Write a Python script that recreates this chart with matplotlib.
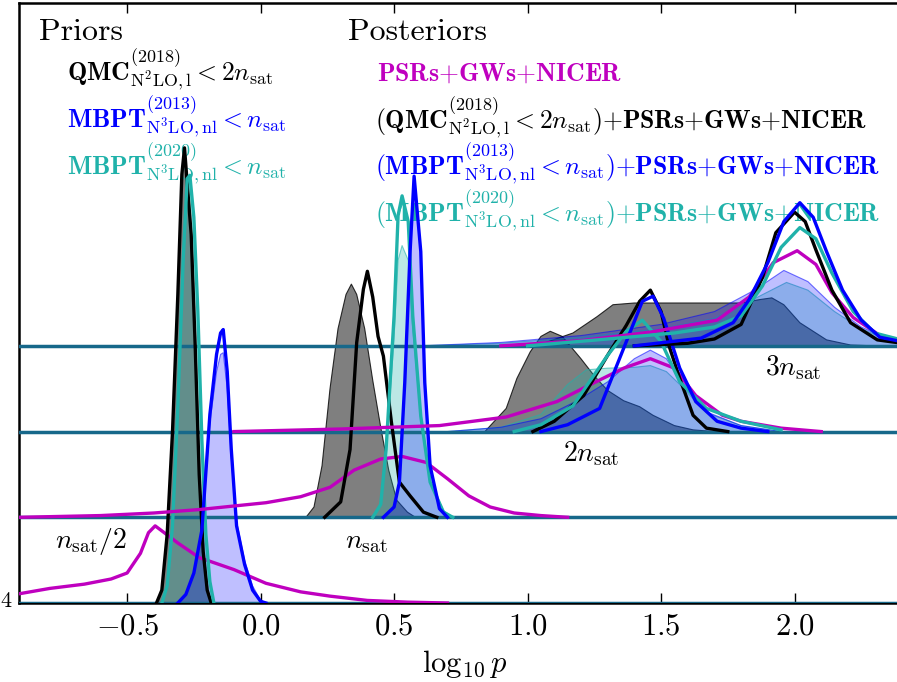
import numpy as np
import matplotlib
matplotlib.use('Agg')
import matplotlib.pyplot as plt

plt.rcParams['font.family'] = 'serif'
plt.rcParams['font.serif'] = ['cmr10']
plt.rcParams['mathtext.fontset'] = 'cm'
plt.rcParams['axes.formatter.use_mathtext'] = True

# ridge levels (baseline offsets) and their labels
level_names = [r'$n_{\rm sat}/2$', r'$n_{\rm sat}$', r'$2n_{\rm sat}$', r'$3n_{\rm sat}$']
level_base = [0, 1, 2, 3]

# ---- n_sat/2 ----
x0_mag = [-0.90, -0.79, -0.66, -0.56, -0.50, -0.45, -0.42, -0.395, -0.365, -0.31, -0.23, -0.10, 0.02, 0.15, 0.26, 0.40, 0.55, 0.70]
h0_mag = [0.11, 0.17, 0.22, 0.28, 0.35, 0.58, 0.82, 0.90, 0.83, 0.70, 0.53, 0.39, 0.23, 0.13, 0.08, 0.03, 0.01, 0.0]
x0_qmc = [-0.39, -0.37, -0.35, -0.33, -0.31, -0.295, -0.285, -0.275, -0.26, -0.245, -0.23, -0.215, -0.20, -0.185]
h0_qmc = [0.0, 0.15, 0.8, 2.0, 3.6, 5.0, 5.31, 4.9, 4.3, 3.0, 1.5, 0.6, 0.15, 0.0]
x0_m20 = [-0.37, -0.35, -0.33, -0.31, -0.29, -0.275, -0.265, -0.25, -0.235, -0.22, -0.205, -0.19, -0.175]
h0_m20 = [0.0, 0.2, 0.9, 2.3, 4.0, 4.95, 4.99, 4.5, 3.4, 1.9, 0.8, 0.25, 0.0]
x0_m13 = [-0.31, -0.28, -0.25, -0.22, -0.19, -0.165, -0.15, -0.14, -0.125, -0.11, -0.09, -0.06, -0.03, 0.0, 0.02]
h0_m13 = [0.0, 0.1, 0.35, 0.85, 2.2, 2.9, 3.15, 3.19, 2.7, 1.8, 0.9, 0.45, 0.15, 0.02, 0.0]
h0_m13_prior = [0.0, 0.1, 0.35, 0.85, 2.1, 2.7, 2.9, 2.92, 2.5, 1.7, 0.95, 0.5, 0.2, 0.03, 0.0]

# ---- n_sat ----
x1_mag = [-0.90, -0.60, -0.40, -0.23, 0.02, 0.15, 0.26, 0.35, 0.45, 0.53, 0.62, 0.70, 0.78, 0.86, 0.95, 1.05, 1.15]
h1_mag = [0.0, 0.02, 0.05, 0.09, 0.17, 0.24, 0.35, 0.55, 0.68, 0.71, 0.64, 0.45, 0.25, 0.12, 0.05, 0.02, 0.0]
x1_qmc_prior = [0.17, 0.20, 0.23, 0.26, 0.29, 0.32, 0.34, 0.36, 0.39, 0.42, 0.45, 0.48, 0.51, 0.55, 0.58]
h1_qmc_prior = [0.0, 0.12, 0.6, 1.5, 2.2, 2.6, 2.72, 2.6, 2.2, 1.6, 1.05, 0.55, 0.2, 0.06, 0.0]
x1_qmc = [0.24, 0.30, 0.335, 0.36, 0.385, 0.40, 0.42, 0.44, 0.46, 0.49, 0.52, 0.56, 0.61, 0.66]
h1_qmc = [0.0, 0.18, 0.79, 2.04, 2.66, 2.87, 2.57, 2.11, 1.88, 1.11, 0.41, 0.25, 0.06, 0.0]
x1_m20 = [0.42, 0.45, 0.47, 0.50, 0.515, 0.53, 0.553, 0.57, 0.60, 0.635, 0.685, 0.72]
h1_m20 = [0.0, 0.15, 0.79, 2.35, 3.52, 3.75, 3.45, 2.35, 1.18, 0.41, 0.06, 0.0]
h1_m20_prior = [0.0, 0.15, 0.75, 2.1, 3.0, 3.17, 3.0, 2.2, 1.15, 0.42, 0.08, 0.0]
x1_m13 = [0.46, 0.50, 0.52, 0.54, 0.56, 0.575, 0.60, 0.615, 0.635, 0.67, 0.70]
h1_m13 = [0.0, 0.12, 0.41, 1.57, 3.1, 3.98, 3.1, 1.57, 0.6, 0.1, 0.0]

# ---- 2 n_sat ----
x2_mag = [-0.10, 0.30, 0.67, 0.92, 1.11, 1.23, 1.36, 1.46, 1.55, 1.63, 1.73, 1.80, 1.95, 2.10]
h2_mag = [0.0, 0.03, 0.07, 0.17, 0.35, 0.54, 0.74, 0.85, 0.74, 0.42, 0.19, 0.12, 0.04, 0.0]
x2_qmc_prior = [0.84, 0.92, 0.96, 1.01, 1.05, 1.085, 1.13, 1.20, 1.25, 1.30, 1.36, 1.42, 1.47, 1.55, 1.62, 1.70]
h2_qmc_prior = [0.0, 0.27, 0.62, 0.93, 1.11, 1.17, 1.11, 0.85, 0.65, 0.48, 0.36, 0.29, 0.19, 0.07, 0.02, 0.0]
x2_qmc = [1.02, 1.10, 1.21, 1.30, 1.37, 1.42, 1.46, 1.50, 1.53, 1.57, 1.62, 1.67, 1.75]
h2_qmc = [0.0, 0.12, 0.42, 0.89, 1.24, 1.52, 1.65, 1.40, 1.0, 0.62, 0.19, 0.04, 0.0]
x2_m13 = [1.05, 1.15, 1.27, 1.37, 1.43, 1.47, 1.51, 1.57, 1.63, 1.71, 1.80, 1.90]
h2_m13 = [0.0, 0.08, 0.27, 1.05, 1.52, 1.58, 1.32, 0.74, 0.35, 0.12, 0.04, 0.0]
x2_m20 = [0.95, 1.05, 1.17, 1.30, 1.37, 1.43, 1.50, 1.57, 1.67, 1.80, 1.95]
h2_m20 = [0.0, 0.08, 0.30, 0.89, 1.17, 1.30, 1.05, 0.58, 0.27, 0.12, 0.02]
x2_m13_prior = [0.70, 0.90, 1.05, 1.18, 1.30, 1.40, 1.46, 1.52, 1.57, 1.67, 1.80, 1.95]
h2_m13_prior = [0.0, 0.05, 0.15, 0.35, 0.58, 0.85, 0.95, 0.85, 0.62, 0.23, 0.07, 0.0]
x2_m20_prior = [0.70, 0.90, 1.05, 1.15, 1.22, 1.30, 1.40, 1.46, 1.52, 1.57, 1.67, 1.80, 1.95]
h2_m20_prior = [0.0, 0.05, 0.2, 0.55, 0.72, 0.74, 0.75, 0.77, 0.70, 0.55, 0.22, 0.07, 0.0]

# ---- 3 n_sat ----
x3_mag = [0.90, 1.20, 1.46, 1.71, 1.83, 1.92, 2.01, 2.08, 2.14, 2.22, 2.33, 2.45]
h3_mag = [0.0, 0.06, 0.16, 0.30, 0.57, 0.97, 1.11, 0.95, 0.62, 0.33, 0.10, 0.03]
x3_qmc_prior = [0.90, 1.05, 1.17, 1.26, 1.32, 1.40, 1.60, 1.80, 1.87, 1.915, 1.96, 2.02, 2.12, 2.21, 2.30]
h3_qmc_prior = [0.0, 0.02, 0.15, 0.34, 0.48, 0.50, 0.50, 0.50, 0.54, 0.56, 0.48, 0.27, 0.07, 0.01, 0.0]
x3_qmc = [1.40, 1.60, 1.70, 1.80, 1.88, 1.93, 2.00, 2.04, 2.08, 2.14, 2.21, 2.31, 2.45]
h3_qmc = [0.0, 0.03, 0.08, 0.25, 0.80, 1.32, 1.56, 1.45, 1.12, 0.65, 0.27, 0.07, 0.01]
x3_m13 = [1.40, 1.65, 1.77, 1.83, 1.90, 1.96, 2.02, 2.07, 2.12, 2.18, 2.25, 2.32, 2.45]
h3_m13 = [0.0, 0.09, 0.27, 0.54, 0.97, 1.45, 1.67, 1.50, 1.10, 0.65, 0.30, 0.10, 0.02]
x3_m20 = [1.00, 1.30, 1.55, 1.70, 1.80, 1.88, 1.95, 2.02, 2.08, 2.14, 2.22, 2.30, 2.45]
h3_m20 = [0.0, 0.08, 0.15, 0.22, 0.35, 0.70, 1.15, 1.38, 1.25, 0.85, 0.40, 0.15, 0.03]
x3_m13_prior = [0.60, 0.90, 1.20, 1.50, 1.70, 1.85, 1.96, 2.05, 2.15, 2.25, 2.35, 2.45]
h3_m13_prior = [0.0, 0.04, 0.12, 0.25, 0.40, 0.65, 0.88, 0.75, 0.45, 0.22, 0.08, 0.02]
x3_m20_prior = [0.60, 0.90, 1.20, 1.50, 1.70, 1.85, 1.97, 2.05, 2.15, 2.25, 2.35, 2.45]
h3_m20_prior = [0.0, 0.03, 0.10, 0.20, 0.32, 0.55, 0.74, 0.65, 0.40, 0.20, 0.07, 0.02]

x_ticks = [-0.5, 0.0, 0.5, 1.0, 1.5, 2.0]

c_qmc = 'k'
c_m13 = '#0000ff'
c_m20 = '#20b2aa'
c_mag = '#bf00bf'
c_base = '#17688a'

fig = plt.figure(figsize=(8.97, 6.82), dpi=100)
ax = fig.add_axes([19 / 897, 1 - 603 / 682, 909 / 897, 600 / 682])


def prior(x, h, base, color, alpha):
    y = base + np.asarray(h)
    ax.fill_between(x, base, y, facecolor=color, alpha=alpha, lw=0, zorder=1)
    ax.plot(x, y, color=color, alpha=min(1, alpha + 0.3), lw=0.8, zorder=1)


def post(x, h, base, color):
    ax.plot(x, base + np.asarray(h), color=color, lw=2.4, zorder=4)


# priors (filled)
prior(x0_qmc, h0_qmc, 0, c_qmc, 0.5)
prior(x0_m20, h0_m20, 0, c_m20, 0.3)
prior(x0_m13, h0_m13_prior, 0, c_m13, 0.25)
prior(x1_qmc_prior, h1_qmc_prior, 1, c_qmc, 0.5)
prior(x1_m20, h1_m20_prior, 1, c_m20, 0.3)
prior(x1_m13, h1_m13, 1, c_m13, 0.25)
prior(x2_qmc_prior, h2_qmc_prior, 2, c_qmc, 0.5)
prior(x2_m20_prior, h2_m20_prior, 2, c_m20, 0.3)
prior(x2_m13_prior, h2_m13_prior, 2, c_m13, 0.25)
prior(x3_qmc_prior, h3_qmc_prior, 3, c_qmc, 0.5)
prior(x3_m20_prior, h3_m20_prior, 3, c_m20, 0.3)
prior(x3_m13_prior, h3_m13_prior, 3, c_m13, 0.25)

for b in level_base:
    ax.axhline(b, color=c_base, lw=2.5, zorder=3)

# posteriors (lines)
post(x0_mag, h0_mag, 0, c_mag)
post(x0_qmc, h0_qmc, 0, c_qmc)
post(x0_m20, h0_m20, 0, c_m20)
post(x0_m13, h0_m13, 0, c_m13)
post(x1_mag, h1_mag, 1, c_mag)
post(x1_qmc, h1_qmc, 1, c_qmc)
post(x1_m20, h1_m20, 1, c_m20)
post(x1_m13, h1_m13, 1, c_m13)
post(x2_mag, h2_mag, 2, c_mag)
post(x2_qmc, h2_qmc, 2, c_qmc)
post(x2_m20, h2_m20, 2, c_m20)
post(x2_m13, h2_m13, 2, c_m13)
post(x3_mag, h3_mag, 3, c_mag)
post(x3_qmc, h3_qmc, 3, c_qmc)
post(x3_m20, h3_m20, 3, c_m20)
post(x3_m13, h3_m13, 3, c_m13)

# ridge labels
lab_pos = [(-0.77, 0.64), (0.316, 0.64), (1.133, 1.65), (1.89, 2.66)]
for name, (lx, ly) in zip(level_names, lab_pos):
    ax.text(lx, ly, name, fontsize=20, va='baseline', ha='left', zorder=5)

# legend-like text
ax.text(-0.83, 6.57, 'Priors', fontsize=23, va='baseline')
ax.text(0.328, 6.57, 'Posteriors', fontsize=23, va='baseline')
fs = 18.5
ax.text(-0.725, 6.09, r'$\mathbf{QMC}^{(2018)}_{\mathrm{N^2LO,l}} < 2n_{\mathrm{sat}}$',
        color=c_qmc, fontsize=fs, va='baseline')
ax.text(-0.725, 5.54, r'$\mathbf{MBPT}^{(2013)}_{\mathrm{N^3LO,nl}} < n_{\mathrm{sat}}$',
        color=c_m13, fontsize=fs, va='baseline')
ax.text(-0.725, 4.99, r'$\mathbf{MBPT}^{(2020)}_{\mathrm{N^3LO,nl}} < n_{\mathrm{sat}}$',
        color=c_m20, fontsize=fs, va='baseline')
ax.text(0.436, 6.10, r'$\mathbf{PSRs{+}GWs{+}NICER}$', color=c_mag, fontsize=fs, va='baseline')
ax.text(0.429, 5.53, r'$\mathbf{(QMC}^{(2018)}_{\mathrm{N^2LO,l}} < 2n_{\mathrm{sat}}\mathbf{){+}PSRs{+}GWs{+}NICER}$',
        color=c_qmc, fontsize=fs, va='baseline')
ax.text(0.429, 4.99, r'$\mathbf{(MBPT}^{(2013)}_{\mathrm{N^3LO,nl}} < n_{\mathrm{sat}}\mathbf{){+}PSRs{+}GWs{+}NICER}$',
        color=c_m13, fontsize=fs, va='baseline')
ax.text(0.429, 4.45, r'$\mathbf{(MBPT}^{(2020)}_{\mathrm{N^3LO,nl}} < n_{\mathrm{sat}}\mathbf{){+}PSRs{+}GWs{+}NICER}$',
        color=c_m20, fontsize=fs, va='baseline')

ax.set_xlim(-0.905, 2.5)
ax.set_ylim(0, 7.0)
ax.set_xticks(x_ticks)
ax.set_yticks([])
ax.tick_params(axis='x', direction='in', top=True, length=7, width=1, labelsize=22, pad=7)
for s in ax.spines.values():
    s.set_linewidth(1.8)

fig.text(465 / 897, 1 - 672 / 682, r'$\log_{10}p$', fontsize=22, ha='center', va='baseline')
fig.text(0.0, 1 - 607 / 682, '4', fontsize=16, ha='left', va='baseline')

fig.savefig('out.png', dpi=100)
